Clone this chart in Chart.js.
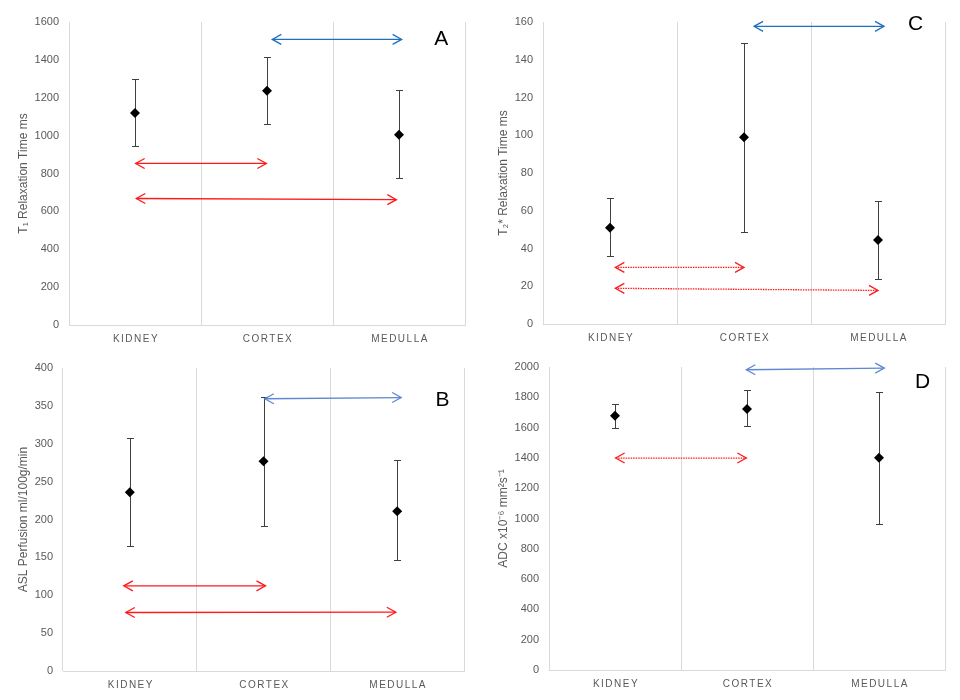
<!DOCTYPE html>
<html>
<head>
<meta charset="utf-8">
<script src="https://cdn.jsdelivr.net/npm/chart.js@4.4.1/dist/chart.umd.min.js"></script>
<style>
  body { margin: 0; background: #fff; }
  #wrap { position: relative; width: 960px; height: 700px; }
  canvas { position: absolute; }
</style>
</head>
<body>
<div id="wrap">
  <canvas id="chartA" width="480" height="350" style="left:0;top:0"></canvas>
  <canvas id="chartC" width="480" height="350" style="left:480px;top:0"></canvas>
  <canvas id="chartB" width="480" height="350" style="left:0;top:350px"></canvas>
  <canvas id="chartD" width="480" height="350" style="left:480px;top:350px"></canvas>
</div>
<script>
const categories = ['KIDNEY', 'CORTEX', 'MEDULLA'];

// A: T1 relaxation time (ms), mean with error range
const t1Mean = [1120, 1237, 1004];
const t1Low = [944, 1061, 775];
const t1High = [1297, 1413, 1240];
// comparison arrows: from / to category index, y at each end
const t1ArrowFrom = [1.04, 0.005, 0.01];
const t1ArrowTo = [2.02, 0.995, 1.98];
const t1ArrowY0 = [1508, 853, 668];
const t1ArrowY1 = [1508, 853, 662];

// C: T2* relaxation time (ms)
const t2Mean = [51, 99, 44.5];
const t2Low = [36, 49, 24];
const t2High = [66.5, 149, 65];
const t2ArrowFrom = [1.075, 0.04, 0.04];
const t2ArrowTo = [2.045, 1.0, 2.0];
const t2ArrowY0 = [157.7, 30, 18.9];
const t2ArrowY1 = [157.7, 30, 17.8];

// B: ASL perfusion (ml/100g/min)
const aslMean = [236, 277, 211];
const aslLow = [164.5, 192, 146];
const aslHigh = [308, 362, 278];
const aslArrowFrom = [1.01, -0.045, -0.03];
const aslArrowTo = [2.03, 1.015, 1.99];
const aslArrowY0 = [359.4, 112.4, 77.2];
const aslArrowY1 = [361, 112.4, 77.6];

// D: ADC x10^-6 mm2/s
const adcMean = [1678, 1723, 1401];
const adcLow = [1595, 1610, 964];
const adcHigh = [1756, 1846, 1832];
const adcArrowFrom = [0.995, 0.005];
const adcArrowTo = [2.04, 0.995];
const adcArrowY0 = [1982, 1399];
const adcArrowY1 = [1993, 1399];

const RED = '#ff1a1a';
const BLUE = '#1f6fc0';
const BLUE_LIGHT = '#5f88d2';
const GRID = '#d9d9d9';
const TEXT = '#595959';
const FONT = "'Liberation Sans', Arial, sans-serif";

const panels = {
  chartA: {
    mean: t1Mean, low: t1Low, high: t1High, max: 1600, step: 200,
    title: 'T₁ Relaxation Time ms',
    from: t1ArrowFrom, to: t1ArrowTo, y0: t1ArrowY0, y1: t1ArrowY1,
    colors: [BLUE, RED, RED], dotted: [false, false, false],
    letter: 'A', letterAt: [2.32, 1508],
    left: 69, pad: { top: 22, right: 15, bottom: 25 },
  },
  chartC: {
    mean: t2Mean, low: t2Low, high: t2High, max: 160, step: 20,
    title: 'T₂* Relaxation Time ms',
    from: t2ArrowFrom, to: t2ArrowTo, y0: t2ArrowY0, y1: t2ArrowY1,
    colors: [BLUE, RED, RED], dotted: [false, true, true],
    letter: 'C', letterAt: [2.28, 159],
    left: 63, pad: { top: 22, right: 15, bottom: 26 },
  },
  chartB: {
    mean: aslMean, low: aslLow, high: aslHigh, max: 400, step: 50,
    title: 'ASL Perfusion ml/100g/min',
    from: aslArrowFrom, to: aslArrowTo, y0: aslArrowY0, y1: aslArrowY1,
    colors: [BLUE_LIGHT, RED, RED], dotted: [false, false, false],
    letter: 'B', letterAt: [2.34, 357],
    left: 63, pad: { top: 18, right: 16, bottom: 29 },
  },
  chartD: {
    mean: adcMean, low: adcLow, high: adcHigh, max: 2000, step: 200,
    title: 'ADC x10⁻⁶ mm²s⁻¹',
    from: adcArrowFrom, to: adcArrowTo, y0: adcArrowY0, y1: adcArrowY1,
    colors: [BLUE_LIGHT, RED], dotted: [false, true],
    letter: 'D', letterAt: [2.33, 1898],
    left: 69, pad: { top: 17, right: 15, bottom: 30 },
  },
};

function arrowHead(ctx, x, y, dir) {
  // open "V" head pointing left (dir=-1) or right (dir=1)
  ctx.beginPath();
  ctx.moveTo(x - dir * 9, y - 5);
  ctx.lineTo(x, y);
  ctx.lineTo(x - dir * 9, y + 5);
  ctx.stroke();
}

const panelMarks = {
  id: 'panelMarks',
  beforeDatasetsDraw(chart) {
    const p = panels[chart.canvas.id];
    const {ctx, scales: {x, y}} = chart;
    ctx.save();
    // error bars
    ctx.strokeStyle = '#404040';
    ctx.lineWidth = 1;
    p.low.forEach((lo, i) => {
      const px = Math.round(x.getPixelForValue(i)) + 0.5;
      const ya = Math.round(y.getPixelForValue(lo)) + 0.5;
      const yb = Math.round(y.getPixelForValue(p.high[i])) + 0.5;
      ctx.beginPath();
      ctx.moveTo(px, ya); ctx.lineTo(px, yb);
      ctx.moveTo(px - 3.5, ya); ctx.lineTo(px + 3.5, ya);
      ctx.moveTo(px - 3.5, yb); ctx.lineTo(px + 3.5, yb);
      ctx.stroke();
    });
    // comparison arrows
    ctx.lineWidth = 1.3;
    p.from.forEach((f, i) => {
      const xa = x.getPixelForValue(f), xb = x.getPixelForValue(p.to[i]);
      const ya = y.getPixelForValue(p.y0[i]), yb = y.getPixelForValue(p.y1[i]);
      ctx.strokeStyle = p.colors[i];
      ctx.setLineDash(p.dotted[i] ? [1.5, 1] : []);
      ctx.beginPath();
      ctx.moveTo(xa, ya); ctx.lineTo(xb, yb);
      ctx.stroke();
      ctx.setLineDash([]);
      arrowHead(ctx, xa, ya, -1);
      arrowHead(ctx, xb, yb, 1);
    });
    ctx.restore();
  },
  afterDraw(chart) {
    const p = panels[chart.canvas.id];
    const {ctx, chartArea, scales: {x, y}} = chart;
    ctx.save();
    // category labels, letter spaced
    ctx.fillStyle = TEXT;
    ctx.font = '10px ' + FONT;
    ctx.letterSpacing = '1.5px';
    ctx.textAlign = 'center';
    ctx.textBaseline = 'middle';
    categories.forEach((c, i) => {
      ctx.fillText(c, x.getPixelForValue(i) + 1, chartArea.bottom + 14);
    });
    ctx.letterSpacing = '0px';
    // panel letter
    ctx.fillStyle = '#000';
    ctx.font = '21px ' + FONT;
    ctx.fillText(p.letter, x.getPixelForValue(p.letterAt[0]), y.getPixelForValue(p.letterAt[1]));
    ctx.restore();
  },
};

Object.keys(panels).forEach(id => {
  const p = panels[id];
  new Chart(document.getElementById(id), {
    type: 'line',
    data: {
      labels: categories,
      datasets: [{
        data: p.mean,
        showLine: false,
        pointStyle: 'rectRot',
        pointRadius: 5,
        pointBackgroundColor: '#000',
        pointBorderWidth: 0,
        borderWidth: 0,
      }],
    },
    options: {
      responsive: false,
      animation: false,
      events: [],
      layout: { padding: p.pad },
      plugins: { legend: { display: false }, tooltip: { enabled: false } },
      scales: {
        x: {
          offset: true,
          grid: { offset: true, color: GRID, drawTicks: false },
          border: { color: GRID },
          ticks: { display: false },
          afterFit: s => { s.height = 0; },
        },
        y: {
          min: 0,
          max: p.max,
          ticks: {
            stepSize: p.step, color: TEXT, font: { family: FONT, size: 11 }, padding: 10,
            callback: v => String(v),
          },
          grid: { display: false, drawTicks: false },
          border: { display: false },
          title: { display: true, text: p.title, color: TEXT, font: { family: FONT, size: 12 }, padding: { top: 16, bottom: 0 } },
          afterFit: s => { s.width = p.left; },
        },
      },
    },
    plugins: [panelMarks],
  });
});
</script>
</body>
</html>
